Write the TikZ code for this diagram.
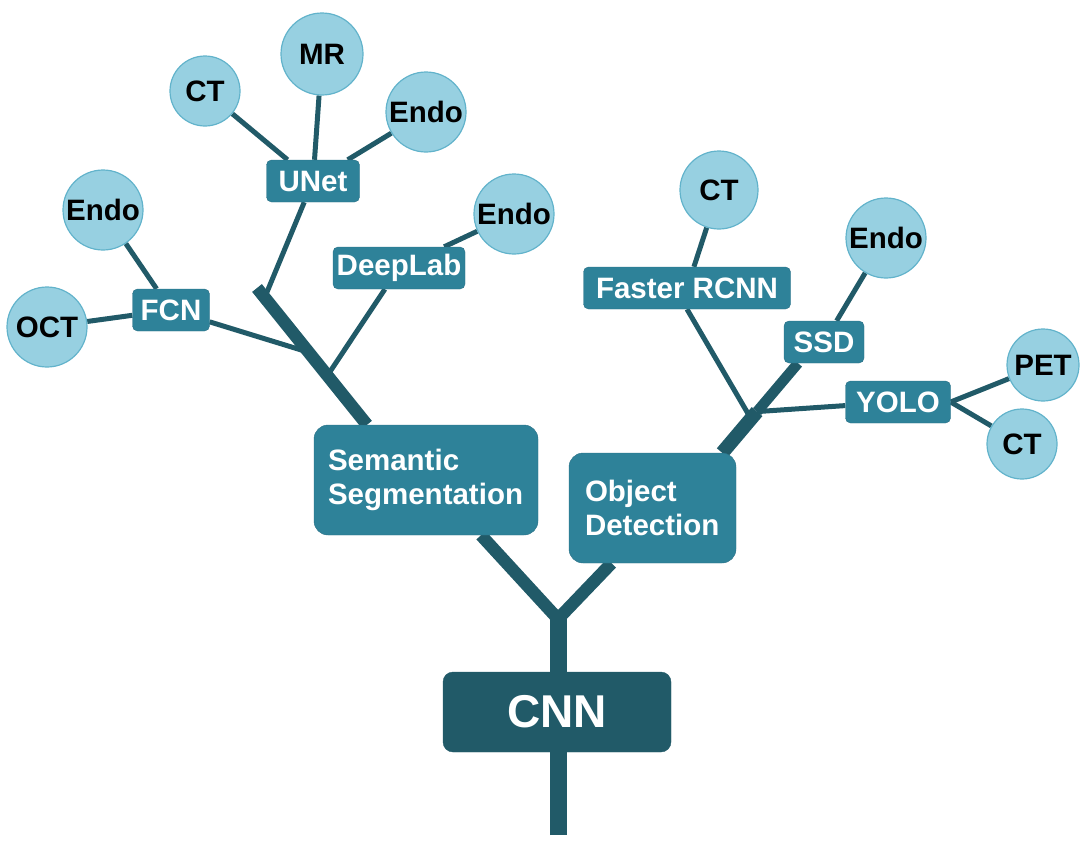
\documentclass[tikz,border=0pt]{standalone}
\usepackage{fontspec}
\setmainfont{Liberation Sans}
\usetikzlibrary{calc,backgrounds}
\definecolor{treedark}{HTML}{215A68}
\definecolor{boxteal}{HTML}{2E8299}
\definecolor{boxedge}{HTML}{2A7086}
\definecolor{leafblue}{HTML}{97D0E1}
\definecolor{leafedge}{HTML}{62B3CB}
\tikzset{basic/.style={font=\bfseries\fontsize{29.5}{34}\selectfont,
                       inner sep=0pt}}
\tikzset{leaf/.style={basic,circle,draw=leafedge,line width=1.2pt,
                      fill=leafblue,text=black,minimum size=80pt}}
\tikzset{tag/.style={basic,draw=boxedge,fill=boxteal,text=white,
                     rounded corners=5pt,minimum height=42pt}}

\begin{document}
\begin{tikzpicture}[x=1pt,y=-1pt,
    % styles for the tree
    task/.style ={tag, rounded corners=14pt, align=left,
                  minimum height=110pt, inner xsep=14pt},
    root/.style ={tag, fill=treedark, draw=treedark, rounded corners=10pt,
                  font=\bfseries\fontsize{46}{50}\selectfont,
                  minimum width=228pt, minimum height=80pt},
    trunk/.style={draw=treedark, line width=17pt},
    limb/.style ={draw=treedark, line width=12.5pt},
    twig/.style ={draw=treedark, line width=5pt}
  ]
    \useasboundingbox (0,0) rectangle (1084,846);

    % root and the two tasks
    \node[root](cnn) at (557,712) {CNN};
    \node[task,text width=196pt](seg) at (426,480) {Semantic\\Segmentation};
    \node[task,text width=135pt,inner xsep=16pt](od) at (652.5,508) {Object\\Detection};

    % networks
    \node[tag,minimum width=77pt](fcn) at (171,310) {FCN};
    \node[tag,minimum width=93pt](unet) at (313,181) {UNet};
    \node[tag,minimum width=132pt](deeplab) at (399,268) {DeepLab};
    \node[tag,minimum width=207pt](frcnn) at (687,288) {Faster RCNN};
    \node[tag,minimum width=80pt](ssd) at (824,342) {SSD};
    \node[tag,minimum width=105pt](yolo) at (898,402) {YOLO};

    % modalities
    \node[leaf](oct) at (47,327) {OCT};
    \node[leaf](endoF) at (103,210) {Endo};
    \node[leaf,minimum size=70pt](ctU) at (205,91) {CT};
    \node[leaf,minimum size=82pt](mr) at (322,54) {MR};
    \node[leaf](endoU) at (426,112) {Endo};
    \node[leaf](endoD) at (514,214) {Endo};
    \node[leaf,minimum size=78pt](ctF) at (719,190) {CT};
    \node[leaf](endoS) at (886,238) {Endo};
    \node[leaf,minimum size=72pt](pet) at (1043,365) {PET};
    \node[leaf,minimum size=70pt](ctY) at (1022,444) {CT};

    \coordinate (base) at (558,835);
    \coordinate (fork) at (558,619);
    \coordinate (stub) at (257,288);
    \coordinate (segin) at ([xshift=-59pt]seg.north);
    \coordinate (odin) at ([xshift=-14pt]od.north east);
    \coordinate (ssdin) at ([xshift=-26pt]ssd.south);
    \coordinate (jU) at ($(stub)!0.07!(segin)$);
    \coordinate (jF) at ($(stub)!0.47!(segin)$);
    \coordinate (jD) at ($(stub)!0.64!(segin)$);
    \coordinate (jR) at ($(odin)!0.38!(ssdin)$);
    \coordinate (jY) at ($(odin)!0.46!(ssdin)$);

    \begin{pgfonlayer}{background}
      \draw[trunk] (base) -- (fork);
      \draw[limb] ([xshift=55pt]seg.south) -- (fork) -- ([xshift=-41pt]od.south);
      \draw[limb] (stub) -- (segin);
      \draw[limb,line width=14pt] (odin) -- (jY);
      \draw[limb,line width=10.5pt] (jY) -- (ssdin);

      \draw[twig] (oct) -- (fcn);
      \draw[twig] (endoF) -- (fcn);
      \draw[twig] (fcn) -- (jF);
      \draw[twig] (unet) -- (jU);
      \draw[twig] (ctU) -- (unet);
      \draw[twig] (mr) -- (unet);
      \draw[twig] (endoU) -- (unet);
      \draw[twig] (deeplab) -- (jD);
      \draw[twig] (endoD) -- (deeplab);
      \draw[twig] (ctF) -- (frcnn);
      \draw[twig] (frcnn.south) -- (jR);
      \draw[twig] (endoS) -- (ssd);
      \draw[twig] (yolo) -- (jY);
      \draw[twig] (yolo.east) -- (pet);
      \draw[twig] (yolo.east) -- (ctY);
    \end{pgfonlayer}
\end{tikzpicture}
\end{document}
